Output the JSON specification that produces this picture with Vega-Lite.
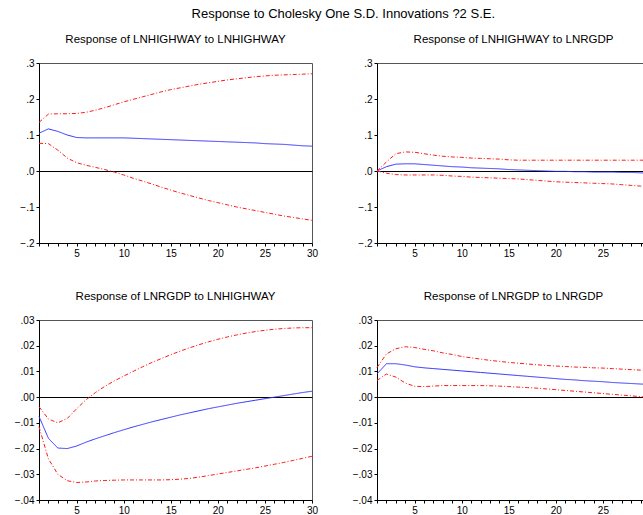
{
  "$schema": "https://vega.github.io/schema/vega-lite/v6.json",
  "padding": {"left": 8, "top": 8, "right": 0, "bottom": 0},
  "background": "white",
  "title": {"text": "Response to Cholesky One S.D. Innovations ?2 S.E.", "fontSize": 13, "font": "Liberation Sans", "fontWeight": "normal", "anchor": "middle", "dx": 11, "offset": 12.5, "color": "black"},
  "config": {
    "font": "Liberation Sans",
    "view": {"stroke": "#555555", "strokeWidth": 1},
    "axis": {"grid": false, "domainColor": "black", "tickColor": "black", "labelColor": "black", "labelFontSize": 10, "labelFont": "Liberation Sans", "title": null, "labelOverlap": false, "labelFlush": false},
    "axisY": {"tickSize": 3, "minExtent": 30, "maxExtent": 30, "labelPadding": 2, "grid": true, "gridWidth": 1, "gridColor": {"condition": {"test": "datum.value === 0", "value": "black"}, "value": "transparent"}},
    "axisX": {"tickSize": 3, "minExtent": 20, "maxExtent": 20, "labelPadding": 2},
    "title": {"fontSize": 11.5, "fontWeight": "normal", "color": "black", "offset": 12.5}
  },
  "data": {"values": [
    {"p":"hh","s":"r","t":1,"v":0.105},{"p":"hh","s":"r","t":2,"v":0.117},{"p":"hh","s":"r","t":3,"v":0.110},{"p":"hh","s":"r","t":4,"v":0.100},{"p":"hh","s":"r","t":5,"v":0.093},{"p":"hh","s":"r","t":6,"v":0.092},{"p":"hh","s":"r","t":7,"v":0.092},{"p":"hh","s":"r","t":8,"v":0.092},{"p":"hh","s":"r","t":9,"v":0.092},{"p":"hh","s":"r","t":10,"v":0.092},{"p":"hh","s":"r","t":11,"v":0.091},{"p":"hh","s":"r","t":12,"v":0.090},{"p":"hh","s":"r","t":13,"v":0.089},{"p":"hh","s":"r","t":14,"v":0.088},{"p":"hh","s":"r","t":15,"v":0.087},{"p":"hh","s":"r","t":16,"v":0.086},{"p":"hh","s":"r","t":17,"v":0.085},{"p":"hh","s":"r","t":18,"v":0.084},{"p":"hh","s":"r","t":19,"v":0.083},{"p":"hh","s":"r","t":20,"v":0.082},{"p":"hh","s":"r","t":21,"v":0.081},{"p":"hh","s":"r","t":22,"v":0.080},{"p":"hh","s":"r","t":23,"v":0.079},{"p":"hh","s":"r","t":24,"v":0.078},{"p":"hh","s":"r","t":25,"v":0.076},{"p":"hh","s":"r","t":26,"v":0.075},{"p":"hh","s":"r","t":27,"v":0.074},{"p":"hh","s":"r","t":28,"v":0.072},{"p":"hh","s":"r","t":29,"v":0.070},{"p":"hh","s":"r","t":30,"v":0.069},
    {"p":"hh","s":"u","t":1,"v":0.135},{"p":"hh","s":"u","t":2,"v":0.158},{"p":"hh","s":"u","t":3,"v":0.159},{"p":"hh","s":"u","t":4,"v":0.159},{"p":"hh","s":"u","t":5,"v":0.160},{"p":"hh","s":"u","t":6,"v":0.163},{"p":"hh","s":"u","t":7,"v":0.169},{"p":"hh","s":"u","t":8,"v":0.176},{"p":"hh","s":"u","t":9,"v":0.184},{"p":"hh","s":"u","t":10,"v":0.192},{"p":"hh","s":"u","t":11,"v":0.199},{"p":"hh","s":"u","t":12,"v":0.206},{"p":"hh","s":"u","t":13,"v":0.213},{"p":"hh","s":"u","t":14,"v":0.220},{"p":"hh","s":"u","t":15,"v":0.226},{"p":"hh","s":"u","t":16,"v":0.231},{"p":"hh","s":"u","t":17,"v":0.236},{"p":"hh","s":"u","t":18,"v":0.241},{"p":"hh","s":"u","t":19,"v":0.245},{"p":"hh","s":"u","t":20,"v":0.249},{"p":"hh","s":"u","t":21,"v":0.253},{"p":"hh","s":"u","t":22,"v":0.256},{"p":"hh","s":"u","t":23,"v":0.259},{"p":"hh","s":"u","t":24,"v":0.262},{"p":"hh","s":"u","t":25,"v":0.264},{"p":"hh","s":"u","t":26,"v":0.266},{"p":"hh","s":"u","t":27,"v":0.267},{"p":"hh","s":"u","t":28,"v":0.268},{"p":"hh","s":"u","t":29,"v":0.269},{"p":"hh","s":"u","t":30,"v":0.270},
    {"p":"hh","s":"l","t":1,"v":0.077},{"p":"hh","s":"l","t":2,"v":0.076},{"p":"hh","s":"l","t":3,"v":0.058},{"p":"hh","s":"l","t":4,"v":0.036},{"p":"hh","s":"l","t":5,"v":0.023},{"p":"hh","s":"l","t":6,"v":0.016},{"p":"hh","s":"l","t":7,"v":0.010},{"p":"hh","s":"l","t":8,"v":0.004},{"p":"hh","s":"l","t":9,"v":-0.003},{"p":"hh","s":"l","t":10,"v":-0.011},{"p":"hh","s":"l","t":11,"v":-0.020},{"p":"hh","s":"l","t":12,"v":-0.028},{"p":"hh","s":"l","t":13,"v":-0.036},{"p":"hh","s":"l","t":14,"v":-0.045},{"p":"hh","s":"l","t":15,"v":-0.053},{"p":"hh","s":"l","t":16,"v":-0.061},{"p":"hh","s":"l","t":17,"v":-0.068},{"p":"hh","s":"l","t":18,"v":-0.075},{"p":"hh","s":"l","t":19,"v":-0.082},{"p":"hh","s":"l","t":20,"v":-0.088},{"p":"hh","s":"l","t":21,"v":-0.094},{"p":"hh","s":"l","t":22,"v":-0.100},{"p":"hh","s":"l","t":23,"v":-0.105},{"p":"hh","s":"l","t":24,"v":-0.110},{"p":"hh","s":"l","t":25,"v":-0.115},{"p":"hh","s":"l","t":26,"v":-0.120},{"p":"hh","s":"l","t":27,"v":-0.125},{"p":"hh","s":"l","t":28,"v":-0.129},{"p":"hh","s":"l","t":29,"v":-0.133},{"p":"hh","s":"l","t":30,"v":-0.137},
    {"p":"hg","s":"r","t":1,"v":0.000},{"p":"hg","s":"r","t":2,"v":0.012},{"p":"hg","s":"r","t":3,"v":0.019},{"p":"hg","s":"r","t":4,"v":0.020},{"p":"hg","s":"r","t":5,"v":0.020},{"p":"hg","s":"r","t":6,"v":0.018},{"p":"hg","s":"r","t":7,"v":0.016},{"p":"hg","s":"r","t":8,"v":0.014},{"p":"hg","s":"r","t":9,"v":0.012},{"p":"hg","s":"r","t":10,"v":0.011},{"p":"hg","s":"r","t":11,"v":0.009},{"p":"hg","s":"r","t":12,"v":0.008},{"p":"hg","s":"r","t":13,"v":0.007},{"p":"hg","s":"r","t":14,"v":0.006},{"p":"hg","s":"r","t":15,"v":0.004},{"p":"hg","s":"r","t":16,"v":0.003},{"p":"hg","s":"r","t":17,"v":0.002},{"p":"hg","s":"r","t":18,"v":0.001},{"p":"hg","s":"r","t":19,"v":0.000},{"p":"hg","s":"r","t":20,"v":-0.001},{"p":"hg","s":"r","t":21,"v":-0.001},{"p":"hg","s":"r","t":22,"v":-0.002},{"p":"hg","s":"r","t":23,"v":-0.002},{"p":"hg","s":"r","t":24,"v":-0.003},{"p":"hg","s":"r","t":25,"v":-0.003},{"p":"hg","s":"r","t":26,"v":-0.003},{"p":"hg","s":"r","t":27,"v":-0.004},{"p":"hg","s":"r","t":28,"v":-0.004},{"p":"hg","s":"r","t":29,"v":-0.005},{"p":"hg","s":"r","t":30,"v":-0.007},
    {"p":"hg","s":"u","t":1,"v":0.000},{"p":"hg","s":"u","t":2,"v":0.025},{"p":"hg","s":"u","t":3,"v":0.048},{"p":"hg","s":"u","t":4,"v":0.053},{"p":"hg","s":"u","t":5,"v":0.052},{"p":"hg","s":"u","t":6,"v":0.048},{"p":"hg","s":"u","t":7,"v":0.044},{"p":"hg","s":"u","t":8,"v":0.041},{"p":"hg","s":"u","t":9,"v":0.039},{"p":"hg","s":"u","t":10,"v":0.038},{"p":"hg","s":"u","t":11,"v":0.036},{"p":"hg","s":"u","t":12,"v":0.035},{"p":"hg","s":"u","t":13,"v":0.034},{"p":"hg","s":"u","t":14,"v":0.033},{"p":"hg","s":"u","t":15,"v":0.031},{"p":"hg","s":"u","t":16,"v":0.030},{"p":"hg","s":"u","t":17,"v":0.030},{"p":"hg","s":"u","t":18,"v":0.030},{"p":"hg","s":"u","t":19,"v":0.030},{"p":"hg","s":"u","t":20,"v":0.030},{"p":"hg","s":"u","t":21,"v":0.030},{"p":"hg","s":"u","t":22,"v":0.030},{"p":"hg","s":"u","t":23,"v":0.030},{"p":"hg","s":"u","t":24,"v":0.030},{"p":"hg","s":"u","t":25,"v":0.030},{"p":"hg","s":"u","t":26,"v":0.030},{"p":"hg","s":"u","t":27,"v":0.030},{"p":"hg","s":"u","t":28,"v":0.030},{"p":"hg","s":"u","t":29,"v":0.030},{"p":"hg","s":"u","t":30,"v":0.030},
    {"p":"hg","s":"l","t":1,"v":0.000},{"p":"hg","s":"l","t":2,"v":-0.006},{"p":"hg","s":"l","t":3,"v":-0.010},{"p":"hg","s":"l","t":4,"v":-0.011},{"p":"hg","s":"l","t":5,"v":-0.011},{"p":"hg","s":"l","t":6,"v":-0.011},{"p":"hg","s":"l","t":7,"v":-0.011},{"p":"hg","s":"l","t":8,"v":-0.012},{"p":"hg","s":"l","t":9,"v":-0.014},{"p":"hg","s":"l","t":10,"v":-0.015},{"p":"hg","s":"l","t":11,"v":-0.017},{"p":"hg","s":"l","t":12,"v":-0.018},{"p":"hg","s":"l","t":13,"v":-0.019},{"p":"hg","s":"l","t":14,"v":-0.020},{"p":"hg","s":"l","t":15,"v":-0.021},{"p":"hg","s":"l","t":16,"v":-0.022},{"p":"hg","s":"l","t":17,"v":-0.024},{"p":"hg","s":"l","t":18,"v":-0.026},{"p":"hg","s":"l","t":19,"v":-0.028},{"p":"hg","s":"l","t":20,"v":-0.030},{"p":"hg","s":"l","t":21,"v":-0.031},{"p":"hg","s":"l","t":22,"v":-0.032},{"p":"hg","s":"l","t":23,"v":-0.033},{"p":"hg","s":"l","t":24,"v":-0.034},{"p":"hg","s":"l","t":25,"v":-0.035},{"p":"hg","s":"l","t":26,"v":-0.036},{"p":"hg","s":"l","t":27,"v":-0.038},{"p":"hg","s":"l","t":28,"v":-0.040},{"p":"hg","s":"l","t":29,"v":-0.042},{"p":"hg","s":"l","t":30,"v":-0.043},
    {"p":"gh","s":"r","t":1,"v":-0.0075},{"p":"gh","s":"r","t":2,"v":-0.0160},{"p":"gh","s":"r","t":3,"v":-0.0198},{"p":"gh","s":"r","t":4,"v":-0.0200},{"p":"gh","s":"r","t":5,"v":-0.0190},{"p":"gh","s":"r","t":6,"v":-0.0175},{"p":"gh","s":"r","t":7,"v":-0.0162},{"p":"gh","s":"r","t":8,"v":-0.0150},{"p":"gh","s":"r","t":9,"v":-0.0138},{"p":"gh","s":"r","t":10,"v":-0.0127},{"p":"gh","s":"r","t":11,"v":-0.0116},{"p":"gh","s":"r","t":12,"v":-0.0106},{"p":"gh","s":"r","t":13,"v":-0.0096},{"p":"gh","s":"r","t":14,"v":-0.0087},{"p":"gh","s":"r","t":15,"v":-0.0078},{"p":"gh","s":"r","t":16,"v":-0.0069},{"p":"gh","s":"r","t":17,"v":-0.0061},{"p":"gh","s":"r","t":18,"v":-0.0053},{"p":"gh","s":"r","t":19,"v":-0.0045},{"p":"gh","s":"r","t":20,"v":-0.0038},{"p":"gh","s":"r","t":21,"v":-0.0031},{"p":"gh","s":"r","t":22,"v":-0.0024},{"p":"gh","s":"r","t":23,"v":-0.0018},{"p":"gh","s":"r","t":24,"v":-0.0012},{"p":"gh","s":"r","t":25,"v":-0.0006},{"p":"gh","s":"r","t":26,"v":0.0000},{"p":"gh","s":"r","t":27,"v":0.0006},{"p":"gh","s":"r","t":28,"v":0.0012},{"p":"gh","s":"r","t":29,"v":0.0018},{"p":"gh","s":"r","t":30,"v":0.0023},
    {"p":"gh","s":"u","t":1,"v":-0.0037},{"p":"gh","s":"u","t":2,"v":-0.0085},{"p":"gh","s":"u","t":3,"v":-0.0100},{"p":"gh","s":"u","t":4,"v":-0.0083},{"p":"gh","s":"u","t":5,"v":-0.0045},{"p":"gh","s":"u","t":6,"v":-0.0010},{"p":"gh","s":"u","t":7,"v":0.0018},{"p":"gh","s":"u","t":8,"v":0.0042},{"p":"gh","s":"u","t":9,"v":0.0063},{"p":"gh","s":"u","t":10,"v":0.0082},{"p":"gh","s":"u","t":11,"v":0.0100},{"p":"gh","s":"u","t":12,"v":0.0118},{"p":"gh","s":"u","t":13,"v":0.0135},{"p":"gh","s":"u","t":14,"v":0.0150},{"p":"gh","s":"u","t":15,"v":0.0165},{"p":"gh","s":"u","t":16,"v":0.0179},{"p":"gh","s":"u","t":17,"v":0.0192},{"p":"gh","s":"u","t":18,"v":0.0204},{"p":"gh","s":"u","t":19,"v":0.0215},{"p":"gh","s":"u","t":20,"v":0.0225},{"p":"gh","s":"u","t":21,"v":0.0234},{"p":"gh","s":"u","t":22,"v":0.0242},{"p":"gh","s":"u","t":23,"v":0.0249},{"p":"gh","s":"u","t":24,"v":0.0255},{"p":"gh","s":"u","t":25,"v":0.0260},{"p":"gh","s":"u","t":26,"v":0.0264},{"p":"gh","s":"u","t":27,"v":0.0267},{"p":"gh","s":"u","t":28,"v":0.0269},{"p":"gh","s":"u","t":29,"v":0.0270},{"p":"gh","s":"u","t":30,"v":0.0270},
    {"p":"gh","s":"l","t":1,"v":-0.0115},{"p":"gh","s":"l","t":2,"v":-0.0240},{"p":"gh","s":"l","t":3,"v":-0.0300},{"p":"gh","s":"l","t":4,"v":-0.0325},{"p":"gh","s":"l","t":5,"v":-0.0332},{"p":"gh","s":"l","t":6,"v":-0.0330},{"p":"gh","s":"l","t":7,"v":-0.0326},{"p":"gh","s":"l","t":8,"v":-0.0324},{"p":"gh","s":"l","t":9,"v":-0.0323},{"p":"gh","s":"l","t":10,"v":-0.0322},{"p":"gh","s":"l","t":11,"v":-0.0322},{"p":"gh","s":"l","t":12,"v":-0.0322},{"p":"gh","s":"l","t":13,"v":-0.0322},{"p":"gh","s":"l","t":14,"v":-0.0322},{"p":"gh","s":"l","t":15,"v":-0.0321},{"p":"gh","s":"l","t":16,"v":-0.0319},{"p":"gh","s":"l","t":17,"v":-0.0316},{"p":"gh","s":"l","t":18,"v":-0.0311},{"p":"gh","s":"l","t":19,"v":-0.0305},{"p":"gh","s":"l","t":20,"v":-0.0299},{"p":"gh","s":"l","t":21,"v":-0.0293},{"p":"gh","s":"l","t":22,"v":-0.0287},{"p":"gh","s":"l","t":23,"v":-0.0281},{"p":"gh","s":"l","t":24,"v":-0.0275},{"p":"gh","s":"l","t":25,"v":-0.0268},{"p":"gh","s":"l","t":26,"v":-0.0261},{"p":"gh","s":"l","t":27,"v":-0.0254},{"p":"gh","s":"l","t":28,"v":-0.0246},{"p":"gh","s":"l","t":29,"v":-0.0238},{"p":"gh","s":"l","t":30,"v":-0.0230},
    {"p":"gg","s":"r","t":1,"v":0.0090},{"p":"gg","s":"r","t":2,"v":0.0130},{"p":"gg","s":"r","t":3,"v":0.0130},{"p":"gg","s":"r","t":4,"v":0.0125},{"p":"gg","s":"r","t":5,"v":0.0118},{"p":"gg","s":"r","t":6,"v":0.0114},{"p":"gg","s":"r","t":7,"v":0.0111},{"p":"gg","s":"r","t":8,"v":0.0108},{"p":"gg","s":"r","t":9,"v":0.0105},{"p":"gg","s":"r","t":10,"v":0.0102},{"p":"gg","s":"r","t":11,"v":0.0099},{"p":"gg","s":"r","t":12,"v":0.0096},{"p":"gg","s":"r","t":13,"v":0.0093},{"p":"gg","s":"r","t":14,"v":0.0090},{"p":"gg","s":"r","t":15,"v":0.0087},{"p":"gg","s":"r","t":16,"v":0.0084},{"p":"gg","s":"r","t":17,"v":0.0081},{"p":"gg","s":"r","t":18,"v":0.0078},{"p":"gg","s":"r","t":19,"v":0.0075},{"p":"gg","s":"r","t":20,"v":0.0072},{"p":"gg","s":"r","t":21,"v":0.0069},{"p":"gg","s":"r","t":22,"v":0.0067},{"p":"gg","s":"r","t":23,"v":0.0064},{"p":"gg","s":"r","t":24,"v":0.0062},{"p":"gg","s":"r","t":25,"v":0.0060},{"p":"gg","s":"r","t":26,"v":0.0057},{"p":"gg","s":"r","t":27,"v":0.0055},{"p":"gg","s":"r","t":28,"v":0.0053},{"p":"gg","s":"r","t":29,"v":0.0051},{"p":"gg","s":"r","t":30,"v":0.0049},
    {"p":"gg","s":"u","t":1,"v":0.0115},{"p":"gg","s":"u","t":2,"v":0.0168},{"p":"gg","s":"u","t":3,"v":0.0188},{"p":"gg","s":"u","t":4,"v":0.0196},{"p":"gg","s":"u","t":5,"v":0.0193},{"p":"gg","s":"u","t":6,"v":0.0186},{"p":"gg","s":"u","t":7,"v":0.0180},{"p":"gg","s":"u","t":8,"v":0.0172},{"p":"gg","s":"u","t":9,"v":0.0166},{"p":"gg","s":"u","t":10,"v":0.0158},{"p":"gg","s":"u","t":11,"v":0.0153},{"p":"gg","s":"u","t":12,"v":0.0148},{"p":"gg","s":"u","t":13,"v":0.0143},{"p":"gg","s":"u","t":14,"v":0.0139},{"p":"gg","s":"u","t":15,"v":0.0135},{"p":"gg","s":"u","t":16,"v":0.0132},{"p":"gg","s":"u","t":17,"v":0.0129},{"p":"gg","s":"u","t":18,"v":0.0126},{"p":"gg","s":"u","t":19,"v":0.0123},{"p":"gg","s":"u","t":20,"v":0.0121},{"p":"gg","s":"u","t":21,"v":0.0119},{"p":"gg","s":"u","t":22,"v":0.0117},{"p":"gg","s":"u","t":23,"v":0.0116},{"p":"gg","s":"u","t":24,"v":0.0114},{"p":"gg","s":"u","t":25,"v":0.0113},{"p":"gg","s":"u","t":26,"v":0.0111},{"p":"gg","s":"u","t":27,"v":0.0109},{"p":"gg","s":"u","t":28,"v":0.0107},{"p":"gg","s":"u","t":29,"v":0.0105},{"p":"gg","s":"u","t":30,"v":0.0104},
    {"p":"gg","s":"l","t":1,"v":0.0065},{"p":"gg","s":"l","t":2,"v":0.0090},{"p":"gg","s":"l","t":3,"v":0.0078},{"p":"gg","s":"l","t":4,"v":0.0055},{"p":"gg","s":"l","t":5,"v":0.0042},{"p":"gg","s":"l","t":6,"v":0.0041},{"p":"gg","s":"l","t":7,"v":0.0043},{"p":"gg","s":"l","t":8,"v":0.0045},{"p":"gg","s":"l","t":9,"v":0.0045},{"p":"gg","s":"l","t":10,"v":0.0045},{"p":"gg","s":"l","t":11,"v":0.0045},{"p":"gg","s":"l","t":12,"v":0.0045},{"p":"gg","s":"l","t":13,"v":0.0044},{"p":"gg","s":"l","t":14,"v":0.0043},{"p":"gg","s":"l","t":15,"v":0.0041},{"p":"gg","s":"l","t":16,"v":0.0039},{"p":"gg","s":"l","t":17,"v":0.0037},{"p":"gg","s":"l","t":18,"v":0.0035},{"p":"gg","s":"l","t":19,"v":0.0032},{"p":"gg","s":"l","t":20,"v":0.0029},{"p":"gg","s":"l","t":21,"v":0.0026},{"p":"gg","s":"l","t":22,"v":0.0023},{"p":"gg","s":"l","t":23,"v":0.0020},{"p":"gg","s":"l","t":24,"v":0.0017},{"p":"gg","s":"l","t":25,"v":0.0014},{"p":"gg","s":"l","t":26,"v":0.0011},{"p":"gg","s":"l","t":27,"v":0.0008},{"p":"gg","s":"l","t":28,"v":0.0005},{"p":"gg","s":"l","t":29,"v":0.0002},{"p":"gg","s":"l","t":30,"v":0.0000}
  ]},
  "spacing": 26,
  "vconcat": [
    {"spacing": 27, "hconcat": [
      {"width": 273, "height": 180, "title": "Response of LNHIGHWAY to LNHIGHWAY",
       "transform": [{"filter": "datum.p == 'hh'"}],
       "mark": {"type": "line", "strokeWidth": 1},
       "encoding": {
         "x": {"field": "t", "type": "quantitative", "scale": {"domain": [1, 30], "nice": false, "zero": false}, "axis": {"values": [1,2,3,4,5,6,7,8,9,10,11,12,13,14,15,16,17,18,19,20,21,22,23,24,25,26,27,28,29,30], "labelExpr": "datum.value % 5 == 0 ? datum.label : ''"}},
         "y": {"field": "v", "type": "quantitative", "scale": {"domain": [-0.2, 0.3], "nice": false}, "axis": {"values": [-0.2, -0.1, 0, 0.1, 0.2, 0.3], "labelExpr": "replace(format(datum.value, '.1f'), '0.', '.')"}},
         "color": {"field": "s", "type": "nominal", "scale": {"domain": ["r", "u", "l"], "range": ["#3030ff", "#ff1a1a", "#ff1a1a"]}, "legend": null},
         "strokeDash": {"field": "s", "type": "nominal", "scale": {"domain": ["r", "u", "l"], "range": [[1, 0], [4, 2, 1, 2], [4, 2, 1, 2]]}, "legend": null}
       }},
      {"width": 273, "height": 180, "title": "Response of LNHIGHWAY to LNRGDP",
       "transform": [{"filter": "datum.p == 'hg'"}],
       "mark": {"type": "line", "strokeWidth": 1},
       "encoding": {
         "x": {"field": "t", "type": "quantitative", "scale": {"domain": [1, 30], "nice": false, "zero": false}, "axis": {"values": [1,2,3,4,5,6,7,8,9,10,11,12,13,14,15,16,17,18,19,20,21,22,23,24,25,26,27,28,29,30], "labelExpr": "datum.value % 5 == 0 ? datum.label : ''"}},
         "y": {"field": "v", "type": "quantitative", "scale": {"domain": [-0.2, 0.3], "nice": false}, "axis": {"values": [-0.2, -0.1, 0, 0.1, 0.2, 0.3], "labelExpr": "replace(format(datum.value, '.1f'), '0.', '.')"}},
         "color": {"field": "s", "type": "nominal", "scale": {"domain": ["r", "u", "l"], "range": ["#3030ff", "#ff1a1a", "#ff1a1a"]}, "legend": null},
         "strokeDash": {"field": "s", "type": "nominal", "scale": {"domain": ["r", "u", "l"], "range": [[1, 0], [4, 2, 1, 2], [4, 2, 1, 2]]}, "legend": null}
       }}
    ]},
    {"spacing": 27, "hconcat": [
      {"width": 273, "height": 180, "title": "Response of LNRGDP to LNHIGHWAY",
       "transform": [{"filter": "datum.p == 'gh'"}],
       "mark": {"type": "line", "strokeWidth": 1},
       "encoding": {
         "x": {"field": "t", "type": "quantitative", "scale": {"domain": [1, 30], "nice": false, "zero": false}, "axis": {"values": [1,2,3,4,5,6,7,8,9,10,11,12,13,14,15,16,17,18,19,20,21,22,23,24,25,26,27,28,29,30], "labelExpr": "datum.value % 5 == 0 ? datum.label : ''"}},
         "y": {"field": "v", "type": "quantitative", "scale": {"domain": [-0.04, 0.03], "nice": false}, "axis": {"values": [-0.04, -0.03, -0.02, -0.01, 0, 0.01, 0.02, 0.03], "labelExpr": "replace(format(datum.value, '.2f'), '0.', '.')"}},
         "color": {"field": "s", "type": "nominal", "scale": {"domain": ["r", "u", "l"], "range": ["#3030ff", "#ff1a1a", "#ff1a1a"]}, "legend": null},
         "strokeDash": {"field": "s", "type": "nominal", "scale": {"domain": ["r", "u", "l"], "range": [[1, 0], [4, 2, 1, 2], [4, 2, 1, 2]]}, "legend": null}
       }},
      {"width": 273, "height": 180, "title": "Response of LNRGDP to LNRGDP",
       "transform": [{"filter": "datum.p == 'gg'"}],
       "mark": {"type": "line", "strokeWidth": 1},
       "encoding": {
         "x": {"field": "t", "type": "quantitative", "scale": {"domain": [1, 30], "nice": false, "zero": false}, "axis": {"values": [1,2,3,4,5,6,7,8,9,10,11,12,13,14,15,16,17,18,19,20,21,22,23,24,25,26,27,28,29,30], "labelExpr": "datum.value % 5 == 0 ? datum.label : ''"}},
         "y": {"field": "v", "type": "quantitative", "scale": {"domain": [-0.04, 0.03], "nice": false}, "axis": {"values": [-0.04, -0.03, -0.02, -0.01, 0, 0.01, 0.02, 0.03], "labelExpr": "replace(format(datum.value, '.2f'), '0.', '.')"}},
         "color": {"field": "s", "type": "nominal", "scale": {"domain": ["r", "u", "l"], "range": ["#3030ff", "#ff1a1a", "#ff1a1a"]}, "legend": null},
         "strokeDash": {"field": "s", "type": "nominal", "scale": {"domain": ["r", "u", "l"], "range": [[1, 0], [4, 2, 1, 2], [4, 2, 1, 2]]}, "legend": null}
       }}
    ]}
  ]
}
